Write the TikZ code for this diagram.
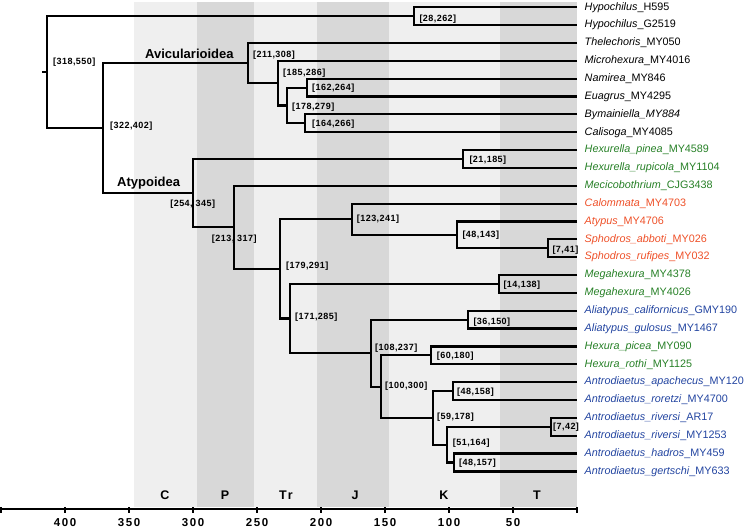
\documentclass[tikz,border=0pt]{standalone}
\usepackage{fontspec}
\setmainfont{Liberation Sans}
\newfontfamily\agefont[LetterSpace=5]{Liberation Sans}
\newfontfamily\axisfont[LetterSpace=14]{Liberation Sans}
\usetikzlibrary{positioning,calc}
\definecolor{cgreen}{RGB}{38,128,38}
\definecolor{cred}{RGB}{238,80,40}
\definecolor{cblue}{RGB}{34,68,160}
\definecolor{bandlight}{RGB}{239,239,239}
\definecolor{banddark}{RGB}{216,216,216}
\newcommand\leafname[2]{\textit{#1}\_#2}

\begin{document}
\begin{tikzpicture}[
  x=1pt,y=-1pt,
  branch/.style={line width=2.2pt,black},
  taxon/.style={anchor=west,inner xsep=7.5pt,inner ysep=0pt,font=\fontsize{10.8}{12}\selectfont},
  age/.style={anchor=west,inner sep=0pt,font=\agefont\bfseries\fontsize{9}{10}\selectfont},
  cladename/.style={anchor=base west,inner sep=0pt,font=\bfseries\fontsize{13}{15}\selectfont},
  period/.style={inner sep=0pt,font=\axisfont\bfseries\fontsize{12.5}{14}\selectfont},
  ticklabel/.style={inner sep=0pt,font=\axisfont\bfseries\fontsize{11.5}{13}\selectfont}
]
  \useasboundingbox (0,0) rectangle (747,529);

  % geological periods
  \fill[bandlight] (134,2) rectangle (197,507);
  \fill[banddark]  (197,2) rectangle (254,507);
  \fill[bandlight] (254,2) rectangle (317,507);
  \fill[banddark]  (317,2) rectangle (389,507);
  \fill[bandlight] (389,2) rectangle (500,507);
  \fill[banddark]  (500,2) rectangle (577,507);
  \node[period] (pC)  at (165,495) {C};
  \node[period] (pP)  at (225,495) {P};
  \node[period] (pTr) at (286,495) {Tr};
  \node[period] (pJ)  at (355,495) {J};
  \node[period] (pK)  at (444,495) {K};
  \node[period] (pT)  at (537,495) {T};

  % time axis (Ma)
  \draw[line width=1.5pt] (1,509) coordinate (axL) -- (577,509) coordinate (axR);
  \foreach \a in {0,50,...,450}
    \draw[line width=1.2pt] ({577-1.28*\a},507) -- ++(0,6);
  \foreach \a in {50,100,...,400}
    \node[ticklabel] (t\a) at ({577-1.28*\a},522.7) {\a};

  % taxa
  \node[taxon] (hypA) at (577,7.30)   {\leafname{Hypochilus}{H595}};
  \node[taxon] (hypB) at (577,25.15)  {\leafname{Hypochilus}{G2519}};
  \node[taxon] (thel) at (577,43.00)  {\leafname{Thelechoris}{MY050}};
  \node[taxon] (mich) at (577,60.85)  {\leafname{Microhexura}{MY4016}};
  \node[taxon] (nami) at (577,78.70)  {\leafname{Namirea}{MY846}};
  \node[taxon] (euag) at (577,96.55)  {\leafname{Euagrus}{MY4295}};
  \node[taxon] (byma) at (577,114.40) {\textit{Bymainiella\_MY884}};
  \node[taxon] (cali) at (577,132.25) {\leafname{Calisoga}{MY4085}};
  \node[taxon,cgreen] (hpin) at (577,150.10) {\leafname{Hexurella\_pinea}{MY4589}};
  \node[taxon,cgreen] (hrup) at (577,167.95) {\leafname{Hexurella\_rupicola}{MY1104}};
  \node[taxon,cgreen] (meco) at (577,185.80) {\leafname{Mecicobothrium}{CJG3438}};
  \node[taxon,cred] (calm) at (577,203.65) {\leafname{Calommata}{MY4703}};
  \node[taxon,cred] (atyu) at (577,221.50) {\leafname{Atypus}{MY4706}};
  \node[taxon,cred] (sabb) at (577,239.35) {\leafname{Sphodros\_abboti}{MY026}};
  \node[taxon,cred] (sruf) at (577,257.20) {\leafname{Sphodros\_rufipes}{MY032}};
  \node[taxon,cgreen] (megA) at (577,275.05) {\leafname{Megahexura}{MY4378}};
  \node[taxon,cgreen] (megB) at (577,292.90) {\leafname{Megahexura}{MY4026}};
  \node[taxon,cblue] (acal) at (577,310.75) {\leafname{Aliatypus\_californicus}{GMY190}};
  \node[taxon,cblue] (agul) at (577,328.60) {\leafname{Aliatypus\_gulosus}{MY1467}};
  \node[taxon,cgreen] (hpic) at (577,346.45) {\leafname{Hexura\_picea}{MY090}};
  \node[taxon,cgreen] (hrot) at (577,364.30) {\leafname{Hexura\_rothi}{MY1125}};
  \node[taxon,cblue] (aapa) at (577,382.15) {\leafname{Antrodiaetus\_apachecus}{MY120}};
  \node[taxon,cblue] (aror) at (577,400.00) {\leafname{Antrodiaetus\_roretzi}{MY4700}};
  \node[taxon,cblue] (arvA) at (577,417.85) {\leafname{Antrodiaetus\_riversi}{AR17}};
  \node[taxon,cblue] (arvB) at (577,435.70) {\leafname{Antrodiaetus\_riversi}{MY1253}};
  \node[taxon,cblue] (ahad) at (577,453.55) {\leafname{Antrodiaetus\_hadros}{MY459}};
  \node[taxon,cblue] (ager) at (577,471.40) {\leafname{Antrodiaetus\_gertschi}{MY633}};

  % internal nodes
  \coordinate (hypo)    at (414.3,16.23);
  \coordinate (nam)     at (307,87.63);
  \coordinate (bym)     at (305,123.33);
  \coordinate (nambym)  at (287,105.48);
  \coordinate (micro)   at (278,83.16);
  \coordinate (avic)    at (248,63.08);
  \coordinate (hexl)    at (463.3,159.03);
  \coordinate (sph)     at (548.3,248.28);
  \coordinate (atyp)    at (457.3,234.89);
  \coordinate (calo)    at (352.3,219.27);
  \coordinate (mega)    at (499.3,283.98);
  \coordinate (alia)    at (468.3,319.68);
  \coordinate (hexu)    at (430.7,355.38);
  \coordinate (apro)    at (452.7,391.08);
  \coordinate (riv)     at (550.7,426.78);
  \coordinate (hage)    at (454,462.48);
  \coordinate (rivhag)  at (447.3,444.63);
  \coordinate (antro)   at (432.7,417.85);
  \coordinate (hexant)  at (380.7,386.61);
  \coordinate (aliant)  at (370.7,353.14);
  \coordinate (megant)  at (290,318.56);
  \coordinate (atyant)  at (280,268.92);
  \coordinate (meci)    at (234.3,227.36);
  \coordinate (atypoid) at (192.7,193.19);
  \coordinate (mygal)   at (103,128.14);
  \coordinate (root)    at (47,72.18);
  \coordinate (stem)    at (42,72.18);

  % branches
  \draw[branch] (hypA.west) -| (hypo) |- (hypB.west);
  \draw[branch] (nami.west) -| (nam) |- (euag.west);
  \draw[branch] (byma.west) -| (bym) |- (cali.west);
  \draw[branch] (nam) -| (nambym) |- (bym);
  \draw[branch] (mich.west) -| (micro) |- (nambym);
  \draw[branch] (thel.west) -| (avic) |- (micro);
  \draw[branch] (hpin.west) -| (hexl) |- (hrup.west);
  \draw[branch] (sabb.west) -| (sph) |- (sruf.west);
  \draw[branch] (atyu.west) -| (atyp) |- (sph);
  \draw[branch] (calm.west) -| (calo) |- (atyp);
  \draw[branch] (megA.west) -| (mega) |- (megB.west);
  \draw[branch] (acal.west) -| (alia) |- (agul.west);
  \draw[branch] (hpic.west) -| (hexu) |- (hrot.west);
  \draw[branch] (aapa.west) -| (apro) |- (aror.west);
  \draw[branch] (arvA.west) -| (riv) |- (arvB.west);
  \draw[branch] (ahad.west) -| (hage) |- (ager.west);
  \draw[branch] (riv) -| (rivhag) |- (hage);
  \draw[branch] (apro) -| (antro) |- (rivhag);
  \draw[branch] (hexu) -| (hexant) |- (antro);
  \draw[branch] (alia) -| (aliant) |- (hexant);
  \draw[branch] (mega) -| (megant) |- (aliant);
  \draw[branch] (calo) -| (atyant) |- (megant);
  \draw[branch] (meco.west) -| (meci) |- (atyant);
  \draw[branch] (hexl) -| (atypoid) |- (meci);
  \draw[branch] (avic) -| (mygal) |- (atypoid);
  \draw[branch] (hypo) -| (root) |- (mygal);
  \draw[branch] (stem) -- (root);

  % clade names
  \node[cladename] (aviname) at (145,58.3)  {Avicularioidea};
  \node[cladename] (atyname) at (117,186.7) {Atypoidea};

  % age intervals
  \node[age] (lhypo)    at ([shift={(5,3)}]hypo)      {[28,262]};
  \node[age] (lroot)    at ([shift={(6,-10)}]root)    {[318,550]};
  \node[age] (lmygal)   at ([shift={(7,-2)}]mygal)    {[322,402]};
  \node[age] (lavic)    at ([shift={(5,-8)}]avic)     {[211,308]};
  \node[age] (lmicro)   at ([shift={(5,-10)}]micro)   {[185,286]};
  \node[age] (lnambym)  at ([shift={(5,1.5)}]nambym)  {[178,279]};
  \node[age] (lnam)     at ([shift={(5,1)}]nam)       {[162,264]};
  \node[age] (lbym)     at ([shift={(7,0.7)}]bym)     {[164,266]};
  \node[age] (lhexl)    at ([shift={(6,1)}]hexl)      {[21,185]};
  \node[age,anchor=center] (latypoid) at ([shift={(0,11)}]atypoid) {[254, 345]};
  \node[age,anchor=center] (lmeci)    at ([shift={(0,12)}]meci)    {[213, 317]};
  \node[age] (latyant)  at ([shift={(6,-3)}]atyant)   {[179,291]};
  \node[age] (lcalo)    at ([shift={(4.4,0)}]calo)    {[123,241]};
  \node[age] (latyp)    at ([shift={(5,0)}]atyp)      {[48,143]};
  \node[age] (lsph)     at ([shift={(4,2)}]sph)       {[7,41]};
  \node[age] (lmegant)  at ([shift={(5,-1.5)}]megant) {[171,285]};
  \node[age] (lmega)    at ([shift={(4,1)}]mega)      {[14,138]};
  \node[age] (laliant)  at ([shift={(4.3,-5)}]aliant) {[108,237]};
  \node[age] (lalia)    at ([shift={(5,2)}]alia)      {[36,150]};
  \node[age] (lhexu)    at ([shift={(6,1)}]hexu)      {[60,180]};
  \node[age] (lhexant)  at ([shift={(4.3,0)}]hexant)  {[100,300]};
  \node[age] (lapro)    at ([shift={(4.3,1)}]apro)    {[48,158]};
  \node[age] (lantro)   at ([shift={(4.3,-1)}]antro)  {[59,178]};
  \node[age] (lriv)     at ([shift={(2.3,0.5)}]riv)   {[7,42]};
  \node[age] (lrivhag)  at ([shift={(5.4,-1)}]rivhag) {[51,164]};
  \node[age] (lhage)    at ([shift={(5,1)}]hage)      {[48,157]};
\end{tikzpicture}
\end{document}
